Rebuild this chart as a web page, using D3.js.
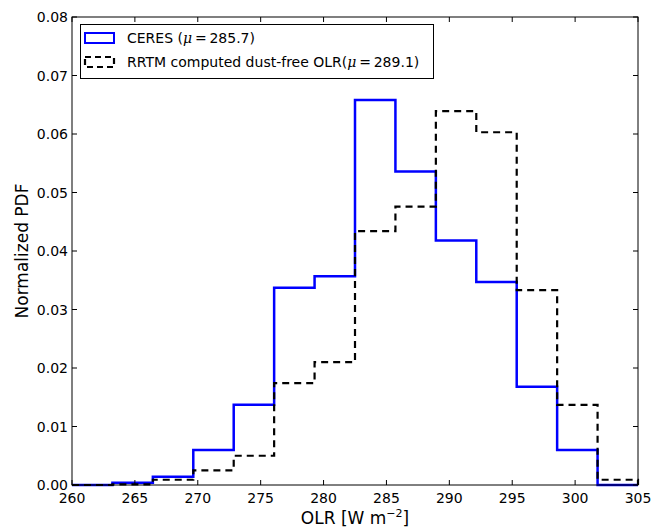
<!DOCTYPE html>
<html>
<head>
<meta charset="utf-8">
<script src="https://cdn.jsdelivr.net/npm/d3@7"></script>
<style>
  body { margin: 0; background: #fff; }
  text { font-family: "DejaVu Sans", sans-serif; fill: #000; }
</style>
</head>
<body>
<div id="chart"></div>
<script>
// bin edges of the histogram (OLR, W m-2)
const binEdges = [260, 263.214, 266.429, 269.643, 272.857, 276.071, 279.286,
                  282.5, 285.714, 288.929, 292.143, 295.357, 298.571, 301.786, 305];
// normalized PDF per bin
const ceresPdf = [0, 0.0004, 0.0014, 0.0060, 0.0137, 0.0337, 0.0357,
                  0.0658, 0.0536, 0.0418, 0.0347, 0.0168, 0.0060, 0];
const rrtmPdf  = [0, 0.0001, 0.0009, 0.0025, 0.0050, 0.0174, 0.0210,
                  0.0434, 0.0476, 0.0639, 0.0603, 0.0333, 0.0137, 0.0009];
const xTicks = [260, 265, 270, 275, 280, 285, 290, 295, 300, 305];
const yTicks = [0, 0.01, 0.02, 0.03, 0.04, 0.05, 0.06, 0.07, 0.08];
const seriesNames = ["CERES", "RRTM computed dust-free OLR"];
const seriesMeans = ["285.7", "289.1"];

function init() {
    const width = 654, height = 528;
    const left = 72, right = 638, top = 17, bottom = 485;

    const svg = d3.select("#chart").append("svg")
                  .attr("width", width)
                  .attr("height", height);

    const x = d3.scaleLinear().domain([260, 305]).range([left, right]);
    const y = d3.scaleLinear().domain([0, 0.08]).range([bottom, top]);

    // step outline like matplotlib histtype='step'
    function stepPoints(vals) {
        const pts = [[binEdges[0], 0]];
        vals.forEach((v, i) => {
            pts.push([binEdges[i], v]);
            pts.push([binEdges[i + 1], v]);
        });
        pts.push([binEdges[binEdges.length - 1], 0]);
        return pts;
    }
    const line = d3.line().x(d => x(d[0])).y(d => y(d[1]));

    const plot = svg.append("g");

    plot.append("path")
        .attr("d", line(stepPoints(ceresPdf)))
        .attr("fill", "none")
        .attr("stroke", "#0000ff")
        .attr("stroke-width", 2.5)
        .attr("stroke-linejoin", "miter");

    plot.append("path")
        .attr("d", line(stepPoints(rrtmPdf)))
        .attr("fill", "none")
        .attr("stroke", "#000")
        .attr("stroke-width", 2.2)
        .attr("stroke-dasharray", "7,5");

    // frame
    svg.append("rect")
       .attr("x", left).attr("y", top)
       .attr("width", right - left).attr("height", bottom - top)
       .attr("fill", "none").attr("stroke", "#000").attr("stroke-width", 1);

    // ticks, inward on all four sides
    const tl = 5;
    const xAxisG = svg.append("g");
    xTicks.forEach(t => {
        xAxisG.append("line").attr("x1", x(t)).attr("x2", x(t))
              .attr("y1", bottom).attr("y2", bottom - tl).attr("stroke", "#000");
        xAxisG.append("line").attr("x1", x(t)).attr("x2", x(t))
              .attr("y1", top).attr("y2", top + tl).attr("stroke", "#000");
        xAxisG.append("text").attr("x", x(t)).attr("y", 503)
              .attr("text-anchor", "middle").style("font-size", "14px")
              .text(t);
    });
    const yAxisG = svg.append("g");
    yTicks.forEach(t => {
        yAxisG.append("line").attr("x1", left).attr("x2", left + tl)
              .attr("y1", y(t)).attr("y2", y(t)).attr("stroke", "#000");
        yAxisG.append("line").attr("x1", right).attr("x2", right - tl)
              .attr("y1", y(t)).attr("y2", y(t)).attr("stroke", "#000");
        yAxisG.append("text").attr("x", left - 4).attr("y", y(t) + 5)
              .attr("text-anchor", "end").style("font-size", "14px")
              .text(d3.format(".2f")(t));
    });

    // axis labels
    const xl = svg.append("text").attr("x", (left + right) / 2).attr("y", 524)
                  .attr("text-anchor", "middle").style("font-size", "17px");
    xl.append("tspan").text("OLR [W m");
    xl.append("tspan").attr("dy", -7).style("font-size", "11px").text("\u22122");
    xl.append("tspan").attr("dy", 7).text("]");

    svg.append("text")
       .attr("transform", `translate(28,${(top + bottom) / 2}) rotate(-90)`)
       .attr("text-anchor", "middle").style("font-size", "17px")
       .text("Normalized PDF");

    // legend
    const lg = svg.append("g");
    lg.append("rect").attr("x", 80.5).attr("y", 24.5).attr("width", 353).attr("height", 54)
      .attr("fill", "#fff").attr("stroke", "#000").attr("stroke-width", 1);
    const styles = [
        { stroke: "#0000ff", dash: null, w: 2 },
        { stroke: "#000", dash: "6,4", w: 2.2 }
    ];
    seriesNames.forEach((name, i) => {
        const cy = 38 + i * 24;
        lg.append("rect").attr("x", 85).attr("y", cy - 5).attr("width", 29).attr("height", 10)
          .attr("fill", "none").attr("stroke", styles[i].stroke)
          .attr("stroke-width", styles[i].w)
          .attr("stroke-dasharray", styles[i].dash);
        const t = lg.append("text").attr("x", 127).attr("y", cy + 5).style("font-size", "14px");
        t.append("tspan").text(i === 0 ? name + " (" : name + "(");
        t.append("tspan").style("font-style", "italic").style("font-family", "DejaVu Serif, serif")
         .text("\u03bc");
        t.append("tspan").text("\u2009=\u2009" + seriesMeans[i] + ")");
    });
}

window.onload = init;
</script>
</body>
</html>
